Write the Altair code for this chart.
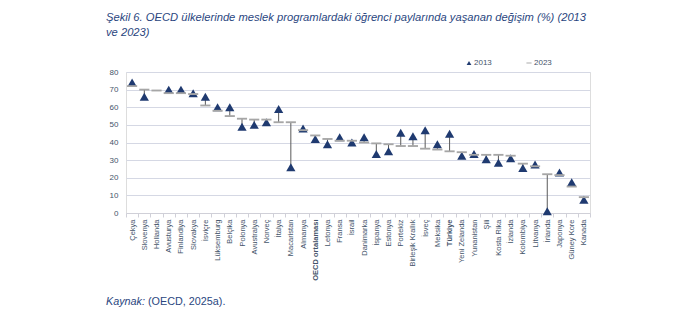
import altair as alt
import pandas as pd

countries = ["Çekya", "Slovenya", "Hollanda", "Avusturya", "Finlandiya", "Slovakya", "İsviçre",
             "Lüksemburg", "Belçika", "Polonya", "Avustralya", "Norveç", "İtalya", "Macaristan",
             "Almanya", "OECD ortalaması", "Letonya", "Fransa", "İsrail", "Danimarka", "İspanya",
             "Estonya", "Portekiz", "Birleşik Krallık", "İsveç", "Meksika", "Türkiye", "Yeni Zelanda",
             "Yunanistan", "Şili", "Kosta Rika", "İzlanda", "Kolombiya", "Litvanya", "İrlanda",
             "Japonya", "Güney Kore", "Kanada"]
v2013 = [74, 66, None, 70, 70, 68, 66, 60, 60, 49, 50, 51.5, 59, 26,
         48, 42, 39, 43, 40, 43, 33.5, 35, 45.5, 43.5, 47, 39, 45, 32.5,
         33.5, 30.5, 28.5, 31, 25.5, 27.5, 1, 23, 17.5, 7.5]
v2023 = [72, 70, 69.5, 68, 68, 67.5, 61, 58, 55, 53.5, 53, 53, 51.5, 51.5,
         47, 44, 42, 41, 41, 40, 39.5, 39, 38, 38, 36.5, 36, 35, 34.5,
         33, 33, 33, 32.5, 28, 26.5, 22, 21.5, 15, 9]
years = ["2013", "2023"]

title1 = "Şekil 6. OECD ülkelerinde meslek programlardaki öğrenci paylarında yaşanan değişim (%) (2013"
title2 = "ve 2023)"
src_it = "Kaynak:"
src_rest = "(OECD, 2025a)."

NAVY = "#1f3a70"
GRAY = "#a6a6a6"
TXT = "#44546a"
TITLE = "#2a4680"

wide = pd.DataFrame({"country": countries, "v2013": v2013, "v2023": v2023})
long = pd.concat([
    pd.DataFrame({"country": countries, "year": years[0], "value": v2013}),
    pd.DataFrame({"country": countries, "year": years[1], "value": v2023}),
]).dropna()

xenc = alt.X("country:N", sort=countries, title=None,
             scale=alt.Scale(paddingInner=0, paddingOuter=0),
             axis=alt.Axis(labelAngle=-90, labelAlign="right", labelBaseline="middle",
                           labelFontSize=7.5, labelColor=TXT, labelPadding=2,
                           tickBand="extent", tickSize=4, tickColor="#d0d0d8",
                           domainColor="#d0d0d8", grid=False,
                           labelFontWeight={"expr": "datum.value == 'OECD ortalaması' || datum.value == 'Türkiye' ? 'bold' : 'normal'"}))
yscale = alt.Scale(domain=[0, 80])
yaxis = alt.Axis(values=list(range(0, 81, 10)), labelFontSize=8, labelColor=TXT, labelPadding=8,
                 domain=False, ticks=False, gridColor="#d5d8e4", gridWidth=1)

legend = alt.Legend(orient="none", legendX=339, legendY=-13, direction="horizontal",
                    title=None, labelFontSize=8, labelColor=TXT, symbolSize=22,
                    columnPadding=33, labelOffset=1)

rules = alt.Chart(wide).transform_filter("isValid(datum.v2013)").mark_rule(
    color="#5a5a5a", strokeWidth=1
).encode(x=xenc, y=alt.Y("v2013:Q", scale=yscale, axis=yaxis, title=None), y2="v2023:Q")

points = alt.Chart(long).mark_point(filled=True, opacity=1, size=85).encode(
    x=xenc,
    y=alt.Y("value:Q", scale=yscale, axis=yaxis, title=None),
    shape=alt.Shape("year:N", scale=alt.Scale(domain=years,
                    range=["triangle-up", "M-1.1,-0.2L1.1,-0.2L1.1,0.2L-1.1,0.2Z"]),
                    legend=legend),
    color=alt.Color("year:N", scale=alt.Scale(domain=years, range=[NAVY, GRAY]), legend=legend),
)

one = pd.DataFrame({"a": [0]})
def txt(s, x, y, size, style="normal", color=TITLE):
    return alt.Chart(one).mark_text(align="left", baseline="alphabetic", fontSize=size,
                                    fontStyle=style, color=color, font="Liberation Sans").encode(
        x=alt.value(x), y=alt.value(y), text=alt.value(s))

t1 = txt(title1, -20, -51, 11.2, "italic")
t2 = txt(title2, -20, -36, 11.2, "italic")
s1 = txt(src_it, -20, 233, 10.8, "italic")
s2 = txt(src_rest, 22, 233, 10.8, "normal")

chart = alt.layer(rules, points, t1, t2, s1, s2).properties(
    width=464, height=141,
    autosize=alt.AutoSizeParams(type="none"),
    padding={"left": 126, "top": 72, "right": 83, "bottom": 116},
).configure_view(stroke=None).configure(font="Liberation Sans")

chart.save("out.html", embed_options={"renderer": "svg", "actions": False})
